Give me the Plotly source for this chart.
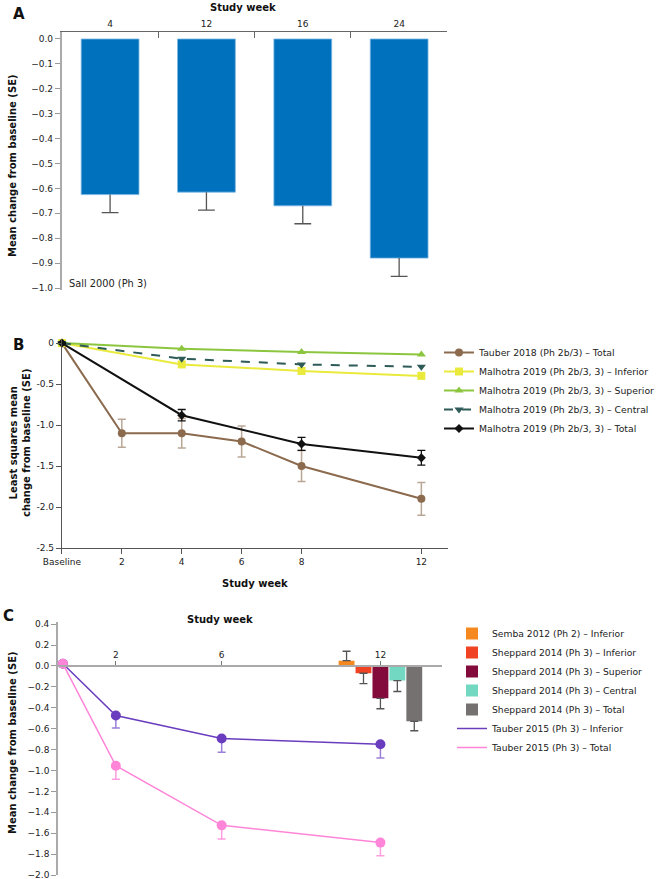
import plotly.graph_objects as go

W, H = 660, 879


def px(x):
    return x / W


def py(y):
    return 1 - y / H


# Panel A - Sall 2000
a_weeks = ["4", "12", "16", "24"]
a_mean = [-0.625, -0.615, -0.67, -0.88]
a_se = [0.072, 0.072, 0.072, 0.073]

# Panel B - Tauber 2018 / Malhotra 2019
b_weeks_tauber = [0, 2, 4, 6, 8, 12]
b_tauber_total = [0, -1.10, -1.10, -1.20, -1.50, -1.90]
b_tauber_se = [0, 0.17, 0.18, 0.19, 0.19, 0.20]
b_weeks_mal = [0, 4, 8, 12]
b_mal_inferior = [0, -0.26, -0.34, -0.40]
b_mal_superior = [0, -0.07, -0.11, -0.14]
b_mal_central = [0, -0.19, -0.26, -0.29]
b_mal_total = [0, -0.88, -1.23, -1.40]
b_mal_total_se = [0, 0.07, 0.08, 0.09]
b_xticks = [0, 2, 4, 6, 8, 12]
b_xticktext = ["Baseline", "2", "4", "6", "8", "12"]
b_yticks = [0, -0.5, -1.0, -1.5, -2.0, -2.5]
b_yticktext = ["0", "-0.5", "-1.0", "-1.5", "-2.0", "-2.5"]

# Panel C - Semba 2012 / Sheppard 2014 / Tauber 2015
c_bar_names = ["Semba 2012 (Ph 2) – Inferior", "Sheppard 2014 (Ph 3) – Inferior",
               "Sheppard 2014 (Ph 3) – Superior", "Sheppard 2014 (Ph 3) – Central",
               "Sheppard 2014 (Ph 3) – Total"]
c_bar_means = [0.05, -0.07, -0.31, -0.14, -0.53]
c_bar_se_up = [0.09, 0, 0, 0, 0]
c_bar_se_down = [0, 0.10, 0.10, 0.105, 0.09]
c_bar_week = 12
c_weeks = [0, 2, 6, 12]
c_tauber_inferior = [0.02, -0.475, -0.695, -0.75]
c_tauber_inferior_se = [0, 0.12, 0.13, 0.13]
c_tauber_total = [0.02, -0.955, -1.525, -1.69]
c_tauber_total_se = [0, 0.13, 0.13, 0.125]
c_xticks = [2, 6, 12]

FONT = "DejaVu Sans"
TXT = "#222"

fig = go.Figure()

# ---- A  (whisker only below the bar, cap drawn as a line marker)
fig.add_trace(go.Bar(
    x=a_weeks, y=a_mean, xaxis="x", yaxis="y", showlegend=False,
    marker=dict(color="#0071BC", line=dict(color="#7DB8E3", width=0.8)),
    error_y=dict(type="data", symmetric=False, array=[0] * len(a_se), arrayminus=a_se,
                 color="#555", thickness=1.3, width=0),
))
fig.add_trace(go.Scatter(
    x=a_weeks, y=[m - s for m, s in zip(a_mean, a_se)], xaxis="x", yaxis="y",
    showlegend=False, mode="markers",
    marker=dict(symbol="line-ew", size=12, line=dict(color="#555", width=1.3)),
))

# ---- B
fig.add_trace(go.Scatter(
    x=b_weeks_tauber, y=b_tauber_total, name="Tauber 2018 (Ph 2b/3) – Total",
    xaxis="x2", yaxis="y2", legend="legend", mode="lines+markers", cliponaxis=False,
    line=dict(color="#8B6A4E", width=2), marker=dict(symbol="circle", size=8, color="#8B6A4E"),
    error_y=dict(type="data", array=b_tauber_se, color="rgba(139,106,78,0.6)", thickness=1.5, width=4),
))
fig.add_trace(go.Scatter(
    x=b_weeks_mal, y=b_mal_inferior, name="Malhotra 2019 (Ph 2b/3, 3) – Inferior",
    xaxis="x2", yaxis="y2", legend="legend", mode="lines+markers", cliponaxis=False,
    line=dict(color="#E9EA3C", width=2), marker=dict(symbol="square", size=8, color="#E9EA3C"),
))
fig.add_trace(go.Scatter(
    x=b_weeks_mal, y=b_mal_superior, name="Malhotra 2019 (Ph 2b/3, 3) – Superior",
    xaxis="x2", yaxis="y2", legend="legend", mode="lines+markers", cliponaxis=False,
    line=dict(color="#8CC63F", width=2), marker=dict(symbol="triangle-up", size=8, color="#8CC63F"),
))
fig.add_trace(go.Scatter(
    x=b_weeks_mal, y=b_mal_central, name="Malhotra 2019 (Ph 2b/3, 3) – Central",
    xaxis="x2", yaxis="y2", legend="legend", mode="lines+markers", cliponaxis=False,
    line=dict(color="#2E5B57", width=2, dash="dash"),
    marker=dict(symbol="triangle-down", size=8, color="#2E5B57"),
))
fig.add_trace(go.Scatter(
    x=b_weeks_mal, y=b_mal_total, name="Malhotra 2019 (Ph 2b/3, 3) – Total",
    xaxis="x2", yaxis="y2", legend="legend", mode="lines+markers", cliponaxis=False,
    line=dict(color="#111", width=2), marker=dict(symbol="diamond", size=7, color="#111"),
    error_y=dict(type="data", array=b_mal_total_se, color="#111", thickness=1.3, width=4),
))

# ---- C bars
c_colors = ["#F5891F", "#F04323", "#830B3C", "#72D8C2", "#767171"]
for i, name in enumerate(c_bar_names):
    fig.add_trace(go.Bar(
        x=[c_bar_week], y=[c_bar_means[i]], name=name, xaxis="x3", yaxis="y3", legend="legend2",
        width=0.6, offset=(i - 2) * 0.64 - 0.3,
        marker=dict(color=c_colors[i], line=dict(width=0)),
        error_y=dict(type="data", symmetric=False, array=[c_bar_se_up[i]],
                     arrayminus=[c_bar_se_down[i]], color="#555", thickness=1.3, width=4),
    ))

# ---- C lines
for name, vals, se, col, ecol in [
    ("Tauber 2015 (Ph 3) – Inferior", c_tauber_inferior, c_tauber_inferior_se, "#6A3DBF", "#9B7FD8"),
    ("Tauber 2015 (Ph 3) – Total", c_tauber_total, c_tauber_total_se, "#FF85D8", "#FF9EDF"),
]:
    fig.add_trace(go.Scatter(
        x=c_weeks, y=vals, name=name, xaxis="x3", yaxis="y3", legend="legend2",
        mode="lines", line=dict(color=col, width=1.5), cliponaxis=False,
    ))
    fig.add_trace(go.Scatter(
        x=c_weeks, y=vals, xaxis="x3", yaxis="y3", showlegend=False, cliponaxis=False,
        mode="markers", marker=dict(size=10, color=col),
        error_y=dict(type="data", symmetric=False, array=[0] * len(se), arrayminus=se,
                     color=ecol, thickness=1.5, width=4),
    ))

c_yrange = [-2.0, 0.42]
c_ydom = [py(875), py(622)]
c_xpos = c_ydom[0] + (0 - c_yrange[0]) / (c_yrange[1] - c_yrange[0]) * (c_ydom[1] - c_ydom[0])

tickfont = dict(family=FONT, size=9, color=TXT)
common = dict(showgrid=False, zeroline=False, automargin=False, tickfont=tickfont,
              ticklabeloverflow="allow")

fig.update_layout(
    width=W, height=H, margin=dict(l=0, r=0, t=0, b=0),
    paper_bgcolor="white", plot_bgcolor="white",
    font=dict(family=FONT, color=TXT),
    barmode="overlay", bargap=0.4,
    xaxis=dict(domain=[px(62), px(448)], anchor="y", side="top", type="category",
               tickson="boundaries", ticks="inside", ticklen=6, tickcolor="#666",
               showline=True, linecolor="#666", linewidth=1, **common),
    yaxis=dict(domain=[py(290), py(32)], anchor="x", range=[-1.008, 0.028], dtick=0.1,
               tickformat=".1f", ticks="outside", ticklen=5, tickcolor="#999",
               showline=True, linecolor="#aaa", linewidth=2, **common),
    xaxis2=dict(domain=[px(62), px(449)], anchor="y2", range=[0, 12.9],
                tickvals=b_xticks, ticktext=b_xticktext, ticks="outside", ticklen=5,
                tickcolor="#555", showline=True, linecolor="#555", linewidth=1.2, **common),
    yaxis2=dict(domain=[py(548), py(339)], anchor="x2", range=[-2.5, 0.05],
                tickvals=b_yticks, ticktext=b_yticktext, ticks="outside", ticklen=5,
                tickcolor="#555", showline=True, linecolor="#555", linewidth=1.2, **common),
    xaxis3=dict(domain=[px(58), px(443)], anchor="free", position=c_xpos, side="top",
                range=[-0.19, 14.34], tickvals=c_xticks, ticks="outside", ticklen=4,
                tickcolor="#777", showline=True, linecolor="#aaa", linewidth=1.5, **common),
    yaxis3=dict(domain=c_ydom, anchor="x3", range=c_yrange, dtick=0.2, tickformat=".1f",
                ticks="outside", ticklen=5, tickcolor="#999",
                showline=True, linecolor="#aaa", linewidth=1.5, **common),
    legend=dict(x=px(440), y=py(338), xanchor="left", yanchor="top",
                font=dict(family=FONT, size=9.3, color=TXT), bgcolor="rgba(0,0,0,0)"),
    legend2=dict(x=px(452), y=py(619), xanchor="left", yanchor="top",
                 font=dict(family=FONT, size=9.2, color=TXT), bgcolor="rgba(0,0,0,0)"),
)

bold = dict(family=FONT, size=10, color="#111")
letter = dict(family=FONT, size=15, color="#111")
notes = [
    dict(x=px(19), y=py(14), text="<b>A</b>", font=letter),
    dict(x=px(19), y=py(345), text="<b>B</b>", font=letter),
    dict(x=px(9), y=py(616), text="<b>C</b>", font=letter),
    dict(x=px(243), y=py(7), text="<b>Study week</b>", font=bold),
    dict(x=px(255), y=py(583), text="<b>Study week</b>", font=bold),
    dict(x=px(220), y=py(619), text="<b>Study week</b>", font=bold),
    dict(x=px(12), y=py(165), text="<b>Mean change from baseline (SE)</b>", font=bold, textangle=-90),
    dict(x=px(20), y=py(443), text="<b>Least squares mean<br>change from baseline (SE)</b>",
         font=bold, textangle=-90),
    dict(x=px(12), y=py(742), text="<b>Mean change from baseline (SE)</b>", font=bold, textangle=-90),
    dict(x=px(67), y=py(283), text="Sall 2000 (Ph 3)", xanchor="left",
         font=dict(family=FONT, size=9.8, color=TXT)),
]
for n in notes:
    n.setdefault("xanchor", "center")
    fig.add_annotation(xref="paper", yref="paper", showarrow=False, yanchor="middle", **n)

# the page's default 8px body margin would shift the whole figure
fig.write_html("out.html", config={"displayModeBar": False},
               post_script="document.body.style.margin='0';")
